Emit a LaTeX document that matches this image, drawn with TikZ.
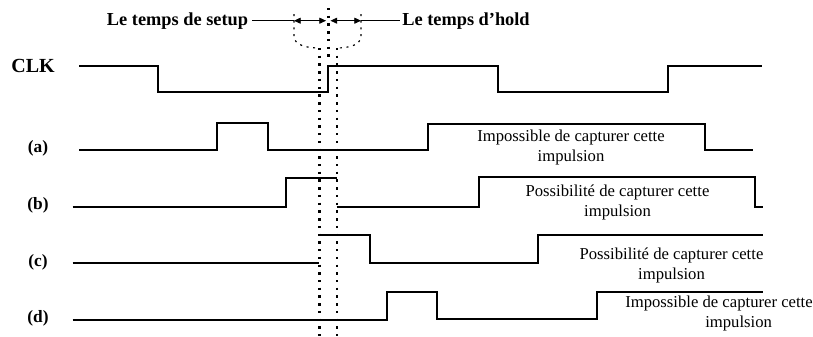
\documentclass[tikz,border=0pt]{standalone}
\usepackage{fontspec}
\setmainfont{Liberation Serif}
\usetikzlibrary{arrows.meta}
\begin{document}
\begin{tikzpicture}[x=0.75pt,y=-0.75pt,
 sig/.style={line width=1.5pt, line join=miter},
 dotv/.style={line width=1.8pt, dash pattern=on 1.8pt off 4pt},
 bracev/.style={line width=0.9pt, dash pattern=on 1.5pt off 3.5pt},
 thin/.style={line width=0.6pt},
 lbl/.style={font=\fontsize{13}{15}\selectfont\bfseries, inner sep=0pt},
 note/.style={font=\fontsize{12.5}{14.5}\selectfont, align=center, inner sep=0pt},
 tmark/.style={font=\fontsize{13.75}{16}\selectfont\bfseries, inner sep=0pt},
 dtip/.style={{Triangle[length=5pt,width=4.5pt]}-{Triangle[length=5pt,width=4.5pt]}}
]
\useasboundingbox (0,0) rectangle (813,336);

% titles
\node[tmark] (setup) at (177.5,20.7) {Le temps de setup};
\node[tmark] (hold) at (466,20.7) {Le temps d’hold};
\coordinate (sL) at (294,20.7);
\coordinate (sR) at (326,20.7);
\coordinate (hL) at (330.5,20.7);
\coordinate (hR) at (361,20.7);
\draw[thin] ([xshift=3pt]setup.east) -- (sL);
\draw[thin] (hR) -- ([xshift=-1.5pt]hold.west);
\draw[thin,dtip] (sL) -- (sR);
\draw[thin,dtip] (hL) -- (hR);
\draw[bracev] (294,14) -- (294,36) .. controls (294,45) and (306,48) .. (319.3,48);
\draw[bracev] (361,14) -- (361,36) .. controls (361,45) and (349,48) .. (336.7,48);

% dotted timing lines
\draw[dotv] (328.3,8) -- (328.3,58);
\draw[dotv] (319.3,48) -- (319.3,336);
\draw[dotv] (336.7,48) -- (336.7,336);

% labels
\node[font=\fontsize{15}{17}\selectfont\bfseries, inner sep=0pt] (clk) at (33,66) {CLK};
\node[lbl] (la) at (38,148.5) {(a)};
\node[lbl] (lb) at (38,205.5) {(b)};
\node[lbl] (lc) at (38,262.5) {(c)};
\node[lbl] (ld) at (38,318.5) {(d)};

% signals
\draw[sig] (79,65.7) -- (158,65.7) -- (158,92) -- (328.3,92) -- (328.3,65.7) -- (498,65.7) -- (498,92) -- (668,92) -- (668,65.7) -- (762,65.7);
\draw[sig] (79,149.5) -- (217,149.5) -- (217,123) -- (268,123) -- (268,149.5) -- (427.5,149.5) -- (427.5,123.5) -- (705,123.5) -- (705,150) -- (753,150);
\draw[sig] (72.7,206.5) -- (285.5,206.5) -- (285.5,177.8) -- (336.7,177.8);
\draw[sig] (336.7,206.5) -- (479.3,206.5) -- (479.3,177) -- (755,177) -- (755,206.7) -- (763,206.7);
\draw[sig] (72.7,263) -- (319.3,263);
\draw[sig] (319.3,235) -- (369.5,235) -- (369.5,263) -- (538.3,263) -- (538.3,235) -- (763,235);
\draw[sig] (72.7,319.5) -- (386.5,319.5) -- (386.5,291.7) -- (437,291.7) -- (437,319) -- (597,319) -- (597,291.7) -- (763,291.7);

% notes
\node[note] (na) at (571,147.5) {Impossible de capturer cette\\impulsion};
\node[note] (nb) at (617.5,202.5) {Possibilité de capturer cette\\impulsion};
\node[note] (nc) at (671.5,265.5) {Possibilité de capturer cette\\impulsion};
\node[note, align=left, anchor=north west] (nd) at (625,296) {Impossible de capturer cette\\\hspace*{60pt}impulsion};
\end{tikzpicture}
\end{document}
